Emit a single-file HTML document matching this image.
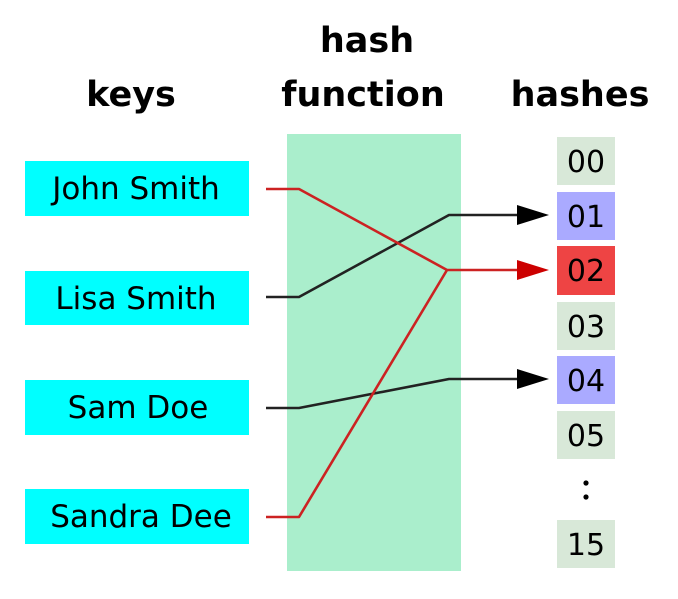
<!DOCTYPE html>
<html><head><meta charset="utf-8">
<style>
html,body{margin:0;padding:0;background:#fff;}
svg{display:block;}
text{font-family:"DejaVu Sans","Liberation Sans",sans-serif;fill:#000;}
</style></head>
<body>
<svg width="678" height="599" viewBox="0 0 678 599" xmlns="http://www.w3.org/2000/svg">
  <rect x="0" y="0" width="678" height="599" fill="#fff"/>
  <!-- headers -->
  <text x="367" y="52" font-size="35" font-weight="bold" text-anchor="middle">hash</text>
  <text x="131" y="106" font-size="35" font-weight="bold" text-anchor="middle">keys</text>
  <text x="363" y="106" font-size="35" font-weight="bold" text-anchor="middle">function</text>
  <text x="580" y="106" font-size="35" font-weight="bold" text-anchor="middle">hashes</text>

  <!-- hash function area -->
  <rect x="287" y="134" width="174" height="437" fill="#aaeecc"/>

  <!-- keys -->
  <rect x="25" y="161" width="224" height="55" fill="#00ffff"/>
  <rect x="25" y="271" width="224" height="54" fill="#00ffff"/>
  <rect x="25" y="380" width="224" height="55" fill="#00ffff"/>
  <rect x="25" y="489" width="224" height="55" fill="#00ffff"/>
  <text x="136" y="199" font-size="31" text-anchor="middle">John Smith</text>
  <text x="136" y="309" font-size="31" text-anchor="middle">Lisa Smith</text>
  <text x="138" y="418" font-size="31" text-anchor="middle">Sam Doe</text>
  <text x="141" y="527" font-size="31" text-anchor="middle">Sandra Dee</text>

  <!-- hash cells -->
  <rect x="557" y="137" width="58" height="48" fill="#d8e8d8"/>
  <rect x="557" y="192" width="58" height="48" fill="#aaaaff"/>
  <rect x="557" y="246" width="58" height="49" fill="#ee4444"/>
  <rect x="557" y="302" width="58" height="48" fill="#d8e8d8"/>
  <rect x="557" y="356" width="58" height="48" fill="#aaaaff"/>
  <rect x="557" y="411" width="58" height="48" fill="#d8e8d8"/>
  <rect x="557" y="520" width="58" height="48" fill="#d8e8d8"/>
  <g font-size="30" text-anchor="middle">
    <text x="586" y="172">00</text>
    <text x="586" y="227">01</text>
    <text x="586" y="281">02</text>
    <text x="586" y="337">03</text>
    <text x="586" y="391">04</text>
    <text x="586" y="446">05</text>
    <text x="586" y="555">15</text>
  </g>
  <circle cx="586" cy="483" r="2.6" fill="#000"/>
  <circle cx="586" cy="497" r="2.6" fill="#000"/>

  <!-- connectors -->
  <g fill="none" stroke-width="2.6" stroke-linejoin="round">
    <polyline points="266,297 299,297 449,215 522,215" stroke="#222"/>
    <polyline points="266,408 299,408 449,379 522,379" stroke="#222"/>
    <polyline points="266,189 299,189 447,270 522,270" stroke="#cc2222"/>
    <polyline points="266,517 299,517 447,270" stroke="#cc2222"/>
  </g>
  <polygon points="517,205 549,215 517,225" fill="#000"/>
  <polygon points="517,369 549,379 517,389" fill="#000"/>
  <polygon points="517,260 549,270 517,280" fill="#cc0000"/>
</svg>
</body></html>
